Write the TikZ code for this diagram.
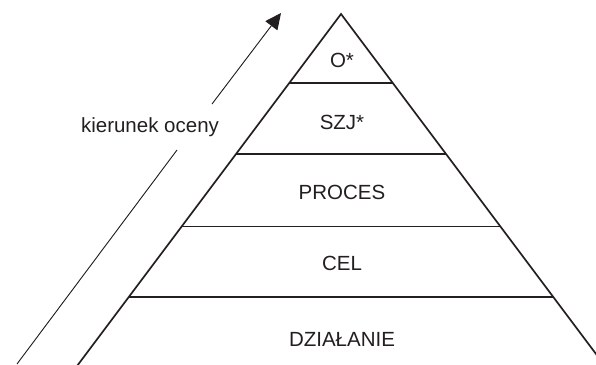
\documentclass[tikz,border=0pt]{standalone}
\usepackage{fontspec}
\setmainfont{Liberation Sans}
\usetikzlibrary{arrows.meta}
\definecolor{ink}{HTML}{231F20}
\begin{document}
\begin{tikzpicture}[x=1pt,y=-1pt,
  lbl/.style={font=\fontsize{20.5}{24}\selectfont, text=ink, inner sep=0pt, anchor=center},
  pyr/.style={line width=1.7pt, line join=miter, draw=ink},
  sep/.style={line width=1.7pt, draw=ink},
  arr/.style={line width=0.9pt, draw=ink, fill=ink}]
\useasboundingbox (0,0) rectangle (596,364);
\clip (0,0) rectangle (596,364);
% pyramid
\coordinate (apex) at (341,14);
\coordinate (bl) at ({341-0.75*366},380);
\coordinate (br) at ({341+0.75*366},380);
\draw[pyr] (bl) -- (apex) -- (br);
\foreach \n/\yy in {1/83,2/154,3/226.5,4/297}{
  \coordinate (L\n) at ({341-0.75*(\yy-14)},\yy);
  \coordinate (R\n) at ({341+0.75*(\yy-14)},\yy);
  \draw[sep] (L\n) -- (R\n);
}
\node[lbl] (o) at (342,60) {O*};
\node[lbl] (szj) at (342,122) {SZJ*};
\node[lbl] (proc) at (342,192) {PROCES};
\node[lbl] (cel) at (342,263) {CEL};
\node[lbl] (dz) at (342,339) {DZIAŁANIE};
% arrow
\node[lbl] (kier) at (150,127) {kierunek oceny};
\coordinate (a0) at (17,364);
\coordinate (a1) at (177,150);
\coordinate (a2) at (212,104);
\coordinate (a3) at (281,13);
\draw[arr] (a0) -- (a1);
\draw[arr,-{Triangle[length=16pt,width=15pt]}] (a2) -- (a3);
\end{tikzpicture}
\end{document}
